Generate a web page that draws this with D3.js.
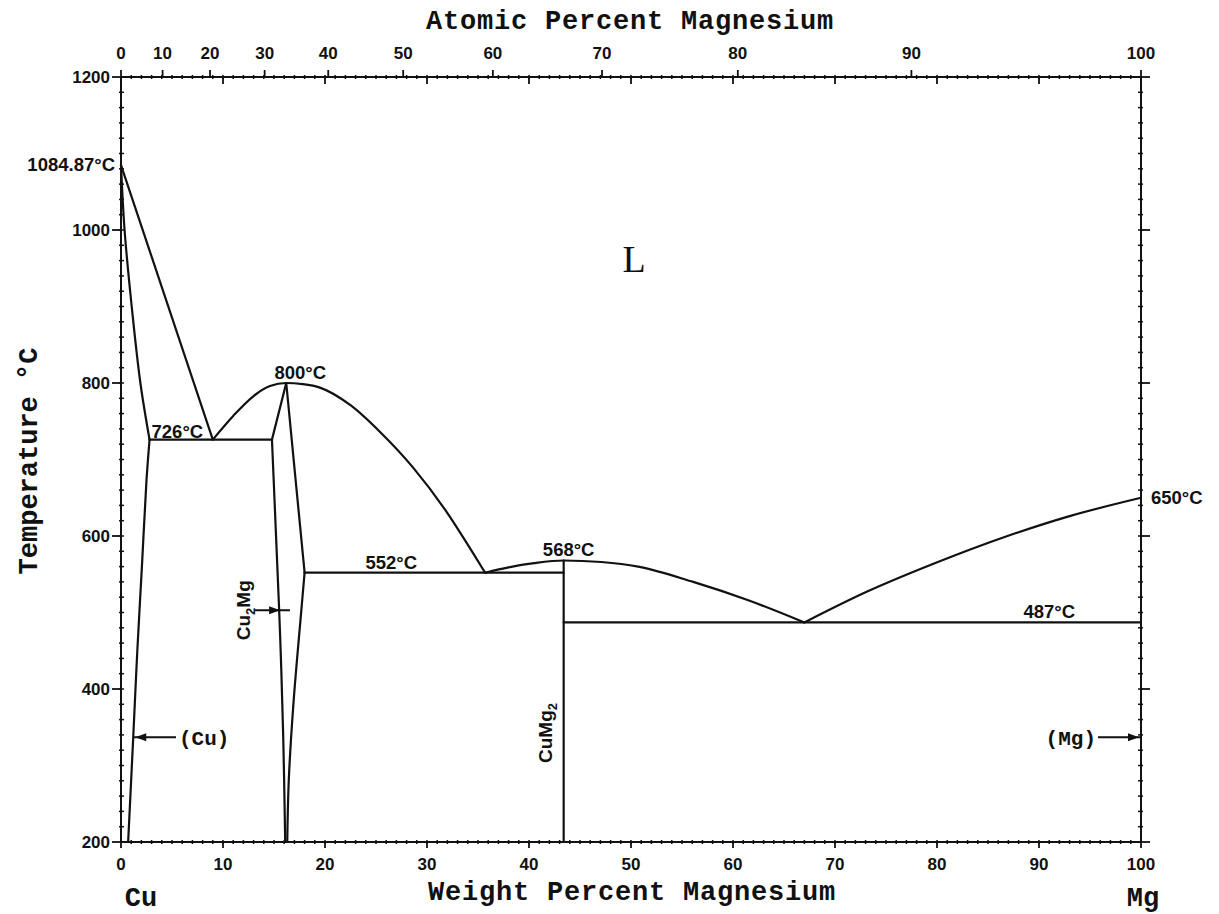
<!DOCTYPE html>
<html>
<head>
<meta charset="utf-8">
<script src="https://cdn.jsdelivr.net/npm/d3@7"></script>
<style>
  body { margin: 0; background: #fff; }
  svg { display: block; }
</style>
</head>
<body>
<svg id="chart" width="1219" height="914"></svg>
<script>
// ---- Cu–Mg equilibrium phase diagram: temperature (°C) vs. composition ----

// Axis ticks
const tempTicks = [200, 400, 600, 800, 1000, 1200];
const weightTicks = [0, 10, 20, 30, 40, 50, 60, 70, 80, 90, 100];
const atomicTicks = [0, 10, 20, 30, 40, 50, 60, 70, 80, 90, 100];

// Phase boundaries, [wt% Mg, °C]
const liquidusCu = [[0, 1084.87], [9.0, 726]];
const solidusCu = [[0, 1084.87], [0.35, 1000], [1.05, 900], [1.9, 800], [2.8, 726]];
const solvusCu = [[2.8, 726], [2.5, 673], [2.05, 560], [1.6, 450], [1.2, 337], [0.7, 200]];
const liquidusCu2Mg = [[9.0, 726], [11.0, 757], [13.0, 783], [14.6, 796], [16.2, 800],
                       [17.8, 798.5], [19.5, 794], [22.5, 771], [25.4, 736], [28.6, 690],
                       [32.0, 630], [34.5, 578], [35.7, 552]];
const cu2mgLeft = [[16.2, 800], [14.8, 726]];
const cu2mgLeftLow = [[14.8, 726], [15.2, 600], [15.6, 470], [15.9, 340], [16.1, 200]];
const cu2mgRight = [[16.2, 800], [18.0, 552]];
const cu2mgRightLow = [[18.0, 552], [17.7, 506], [16.9, 380], [16.45, 281], [16.3, 200]];
const liquidusCuMg2 = [[35.7, 552], [38.0, 559], [40.5, 564.5], [43.4, 568], [47.1, 566],
                       [50.7, 560], [56.1, 540], [61.5, 516], [67.0, 487]];
const liquidusMg = [[67.0, 487], [73.1, 527], [79.9, 565], [86.7, 599], [93.0, 626], [100, 650]];
const cuMg2Line = [[43.4, 568], [43.4, 200]];

// Invariant horizontals
const isothermTemps = [726, 552, 487];
const isothermFrom = [2.8, 18.0, 43.4];
const isothermTo = [14.8, 43.4, 100];

// Melting and congruent points
const meltCu = 1084.87;
const meltMg = 650;
const peakCu2Mg = [16.2, 800];
const peakCuMg2 = [43.4, 568];

// Atomic masses for the top (at.%) scale
const M_MG = 24.305, M_CU = 63.546;
const atToWt = a => 100 * a * M_MG / (a * M_MG + (100 - a) * M_CU);

// ---- Layout ----
const svg = d3.select("#chart");
const x = d3.scaleLinear().domain([0, 100]).range([121, 1141]);
const y = d3.scaleLinear().domain([200, 1200]).range([842, 77]);
const X0 = x(0), X1 = x(100), Y0 = y(200), Y1 = y(1200);

const tickFont = "'Liberation Sans', Arial, sans-serif";
const monoFont = "'Liberation Mono', 'Courier New', monospace";
const ink = "#111";

// Frame
svg.append("rect")
  .attr("x", X0).attr("y", Y1).attr("width", X1 - X0).attr("height", Y0 - Y1)
  .attr("fill", "none").attr("stroke", ink).attr("stroke-width", 2);

const ticks = svg.append("g").attr("stroke", ink);

// Minor ticks: every 1 wt% along top and bottom, every 20 °C along the sides
d3.range(1, 100).forEach(w => {
  ticks.append("line").attr("x1", x(w)).attr("x2", x(w)).attr("y1", Y0 - 2).attr("y2", Y0 + 2).attr("stroke-width", 1.5);
  ticks.append("line").attr("x1", x(w)).attr("x2", x(w)).attr("y1", Y1 - 2).attr("y2", Y1 + 2).attr("stroke-width", 1.5);
});
d3.range(220, 1200, 20).forEach(t => {
  ticks.append("line").attr("x1", X0 - 2).attr("x2", X0 + 3).attr("y1", y(t)).attr("y2", y(t)).attr("stroke-width", 1.5);
  ticks.append("line").attr("x1", X1 - 3).attr("x2", X1 + 2).attr("y1", y(t)).attr("y2", y(t)).attr("stroke-width", 1.5);
});

const tickLabel = (px, py, txt, anchor) => svg.append("text")
  .attr("x", px).attr("y", py).attr("text-anchor", anchor)
  .attr("font-family", tickFont).attr("font-weight", "bold").attr("font-size", 17)
  .attr("fill", ink).text(txt);

// Major temperature ticks (outward) and labels
tempTicks.forEach(t => {
  ticks.append("line").attr("x1", X0 - 9).attr("x2", X0).attr("y1", y(t)).attr("y2", y(t)).attr("stroke-width", 1.8);
  ticks.append("line").attr("x1", X1).attr("x2", X1 + 9).attr("y1", y(t)).attr("y2", y(t)).attr("stroke-width", 1.8);
  tickLabel(X0 - 11, y(t) + 6, t, "end");
});

// Weight-percent ticks: bottom labels, inward marks on top
weightTicks.forEach(w => {
  ticks.append("line").attr("x1", x(w)).attr("x2", x(w)).attr("y1", Y0).attr("y2", Y0 + 6).attr("stroke-width", 1.8);
  ticks.append("line").attr("x1", x(w)).attr("x2", x(w)).attr("y1", Y1).attr("y2", Y1 + 7).attr("stroke-width", 1.8);
  tickLabel(x(w), 870, w, "middle");
});

// Atomic-percent ticks on top (outward)
atomicTicks.forEach(a => {
  const px = x(atToWt(a));
  ticks.append("line").attr("x1", px).attr("x2", px).attr("y1", Y1 - 7).attr("y2", Y1).attr("stroke-width", 1.8);
  tickLabel(px, 59, a, "middle");
});

// ---- Phase boundaries ----
const line = d3.line().x(d => x(d[0])).y(d => y(d[1]));
const smooth = d3.line().x(d => x(d[0])).y(d => y(d[1])).curve(d3.curveCatmullRom.alpha(0.5));
const dome = d3.line().x(d => x(d[0])).y(d => y(d[1])).curve(d3.curveMonotoneX);

const bounds = svg.append("g").attr("fill", "none").attr("stroke", ink)
  .attr("stroke-width", 2.2).attr("stroke-linejoin", "round").attr("stroke-linecap", "round");

bounds.append("path").attr("d", line(liquidusCu));
bounds.append("path").attr("d", smooth(solidusCu));
bounds.append("path").attr("d", smooth(solvusCu));
bounds.append("path").attr("d", dome(liquidusCu2Mg));
bounds.append("path").attr("d", line(cu2mgLeft));
bounds.append("path").attr("d", smooth(cu2mgLeftLow));
bounds.append("path").attr("d", line(cu2mgRight));
bounds.append("path").attr("d", smooth(cu2mgRightLow));
bounds.append("path").attr("d", dome(liquidusCuMg2));
bounds.append("path").attr("d", dome(liquidusMg));
bounds.append("path").attr("d", line(cuMg2Line));

isothermTemps.forEach((t, i) => {
  bounds.append("path").attr("d", line([[isothermFrom[i], t], [isothermTo[i], t]]));
});

// ---- Temperature annotations ----
const degLabel = (px, py, txt, anchor) => svg.append("text")
  .attr("x", px).attr("y", py).attr("text-anchor", anchor)
  .attr("font-family", tickFont).attr("font-weight", "bold").attr("font-size", 18.5)
  .attr("fill", ink).text(txt);
const fmt = v => v + "°C";

degLabel(X0 - 6, y(meltCu) + 6, fmt(meltCu), "end");
degLabel(X1 + 10, y(meltMg) + 6, fmt(meltMg), "start");
degLabel(x(isothermFrom[0]) + 2, y(isothermTemps[0]) - 2, fmt(isothermTemps[0]), "start");
degLabel(x(26.5), y(isothermTemps[1]) - 4, fmt(isothermTemps[1]), "middle");
degLabel(x(91), y(isothermTemps[2]) - 4, fmt(isothermTemps[2]), "middle");
degLabel(x(peakCu2Mg[0]) + 14, y(peakCu2Mg[1]) - 4, fmt(peakCu2Mg[1]), "middle");
degLabel(x(peakCuMg2[0]) + 5, y(peakCuMg2[1]) - 4, fmt(peakCuMg2[1]), "middle");

// ---- Phase labels ----
svg.append("text")
  .attr("x", x(50.3)).attr("y", 272).attr("text-anchor", "middle")
  .attr("font-family", "'Liberation Serif', 'Times New Roman', serif")
  .attr("font-size", 38).attr("fill", ink).text("L");

const arrowHead = (tipX, tipY, dir) => {
  const l = 11, w = 4;
  svg.append("path")
    .attr("d", `M${tipX},${tipY} L${tipX - dir * l},${tipY - w} L${tipX - dir * l},${tipY + w} Z`)
    .attr("fill", ink);
};

// (Cu) solid solution
const tSS = 337;
svg.append("line").attr("x1", x(1.2)).attr("x2", 176).attr("y1", y(tSS)).attr("y2", y(tSS))
  .attr("stroke", ink).attr("stroke-width", 2);
arrowHead(x(1.2) + 2, y(tSS), -1);
svg.append("text").attr("x", 179).attr("y", y(tSS)).attr("dy", "0.35em")
  .attr("font-family", monoFont).attr("font-weight", "bold").attr("font-size", 21)
  .attr("fill", ink).text("(Cu)");

// (Mg) solid solution
svg.append("line").attr("x1", 1098).attr("x2", X1).attr("y1", y(tSS)).attr("y2", y(tSS))
  .attr("stroke", ink).attr("stroke-width", 2);
arrowHead(X1 - 2, y(tSS), 1);
svg.append("text").attr("x", 1096).attr("y", y(tSS)).attr("dy", "0.35em")
  .attr("text-anchor", "end")
  .attr("font-family", monoFont).attr("font-weight", "bold").attr("font-size", 21)
  .attr("fill", ink).text("(Mg)");

// Cu2Mg (Laves phase) marker
const tCu2Mg = 503;
svg.append("line").attr("x1", 255).attr("x2", 290).attr("y1", y(tCu2Mg)).attr("y2", y(tCu2Mg))
  .attr("stroke", ink).attr("stroke-width", 2);
arrowHead(x(15.6), y(tCu2Mg), 1);

const vertLabel = (cx, cy, parts) => {
  const t = svg.append("text")
    .attr("transform", `translate(${cx},${cy}) rotate(-90)`)
    .attr("text-anchor", "middle")
    .attr("font-family", tickFont).attr("font-weight", "bold").attr("font-size", 19)
    .attr("fill", ink);
  parts.forEach(p => {
    const s = t.append("tspan").text(p.t);
    if (p.sub) s.attr("font-size", 13).attr("dy", 5);
    else if (p.after) s.attr("dy", -5);
  });
};
vertLabel(250, y(tCu2Mg), [{t: "Cu"}, {t: "2", sub: true}, {t: "Mg", after: true}]);
vertLabel(552, 733, [{t: "CuMg"}, {t: "2", sub: true}]);

// ---- Axis titles and element labels ----
svg.append("text").attr("x", 630).attr("y", 29).attr("text-anchor", "middle")
  .attr("font-family", monoFont).attr("font-weight", "bold").attr("font-size", 27)
  .attr("letter-spacing", 0.8).attr("fill", ink).text("Atomic Percent Magnesium");

svg.append("text").attr("x", 632).attr("y", 900).attr("text-anchor", "middle")
  .attr("font-family", monoFont).attr("font-weight", "bold").attr("font-size", 27)
  .attr("letter-spacing", 0.8).attr("fill", ink).text("Weight Percent Magnesium");

svg.append("text").attr("transform", "translate(37,461) rotate(-90)").attr("text-anchor", "middle")
  .attr("font-family", monoFont).attr("font-weight", "bold").attr("font-size", 27)
  .attr("fill", ink).text("Temperature °C");

svg.append("text").attr("x", 141).attr("y", 906).attr("text-anchor", "middle")
  .attr("font-family", monoFont).attr("font-weight", "bold").attr("font-size", 27)
  .attr("fill", ink).text("Cu");
svg.append("text").attr("x", 1143).attr("y", 906).attr("text-anchor", "middle")
  .attr("font-family", monoFont).attr("font-weight", "bold").attr("font-size", 27)
  .attr("fill", ink).text("Mg");
</script>
</body>
</html>
